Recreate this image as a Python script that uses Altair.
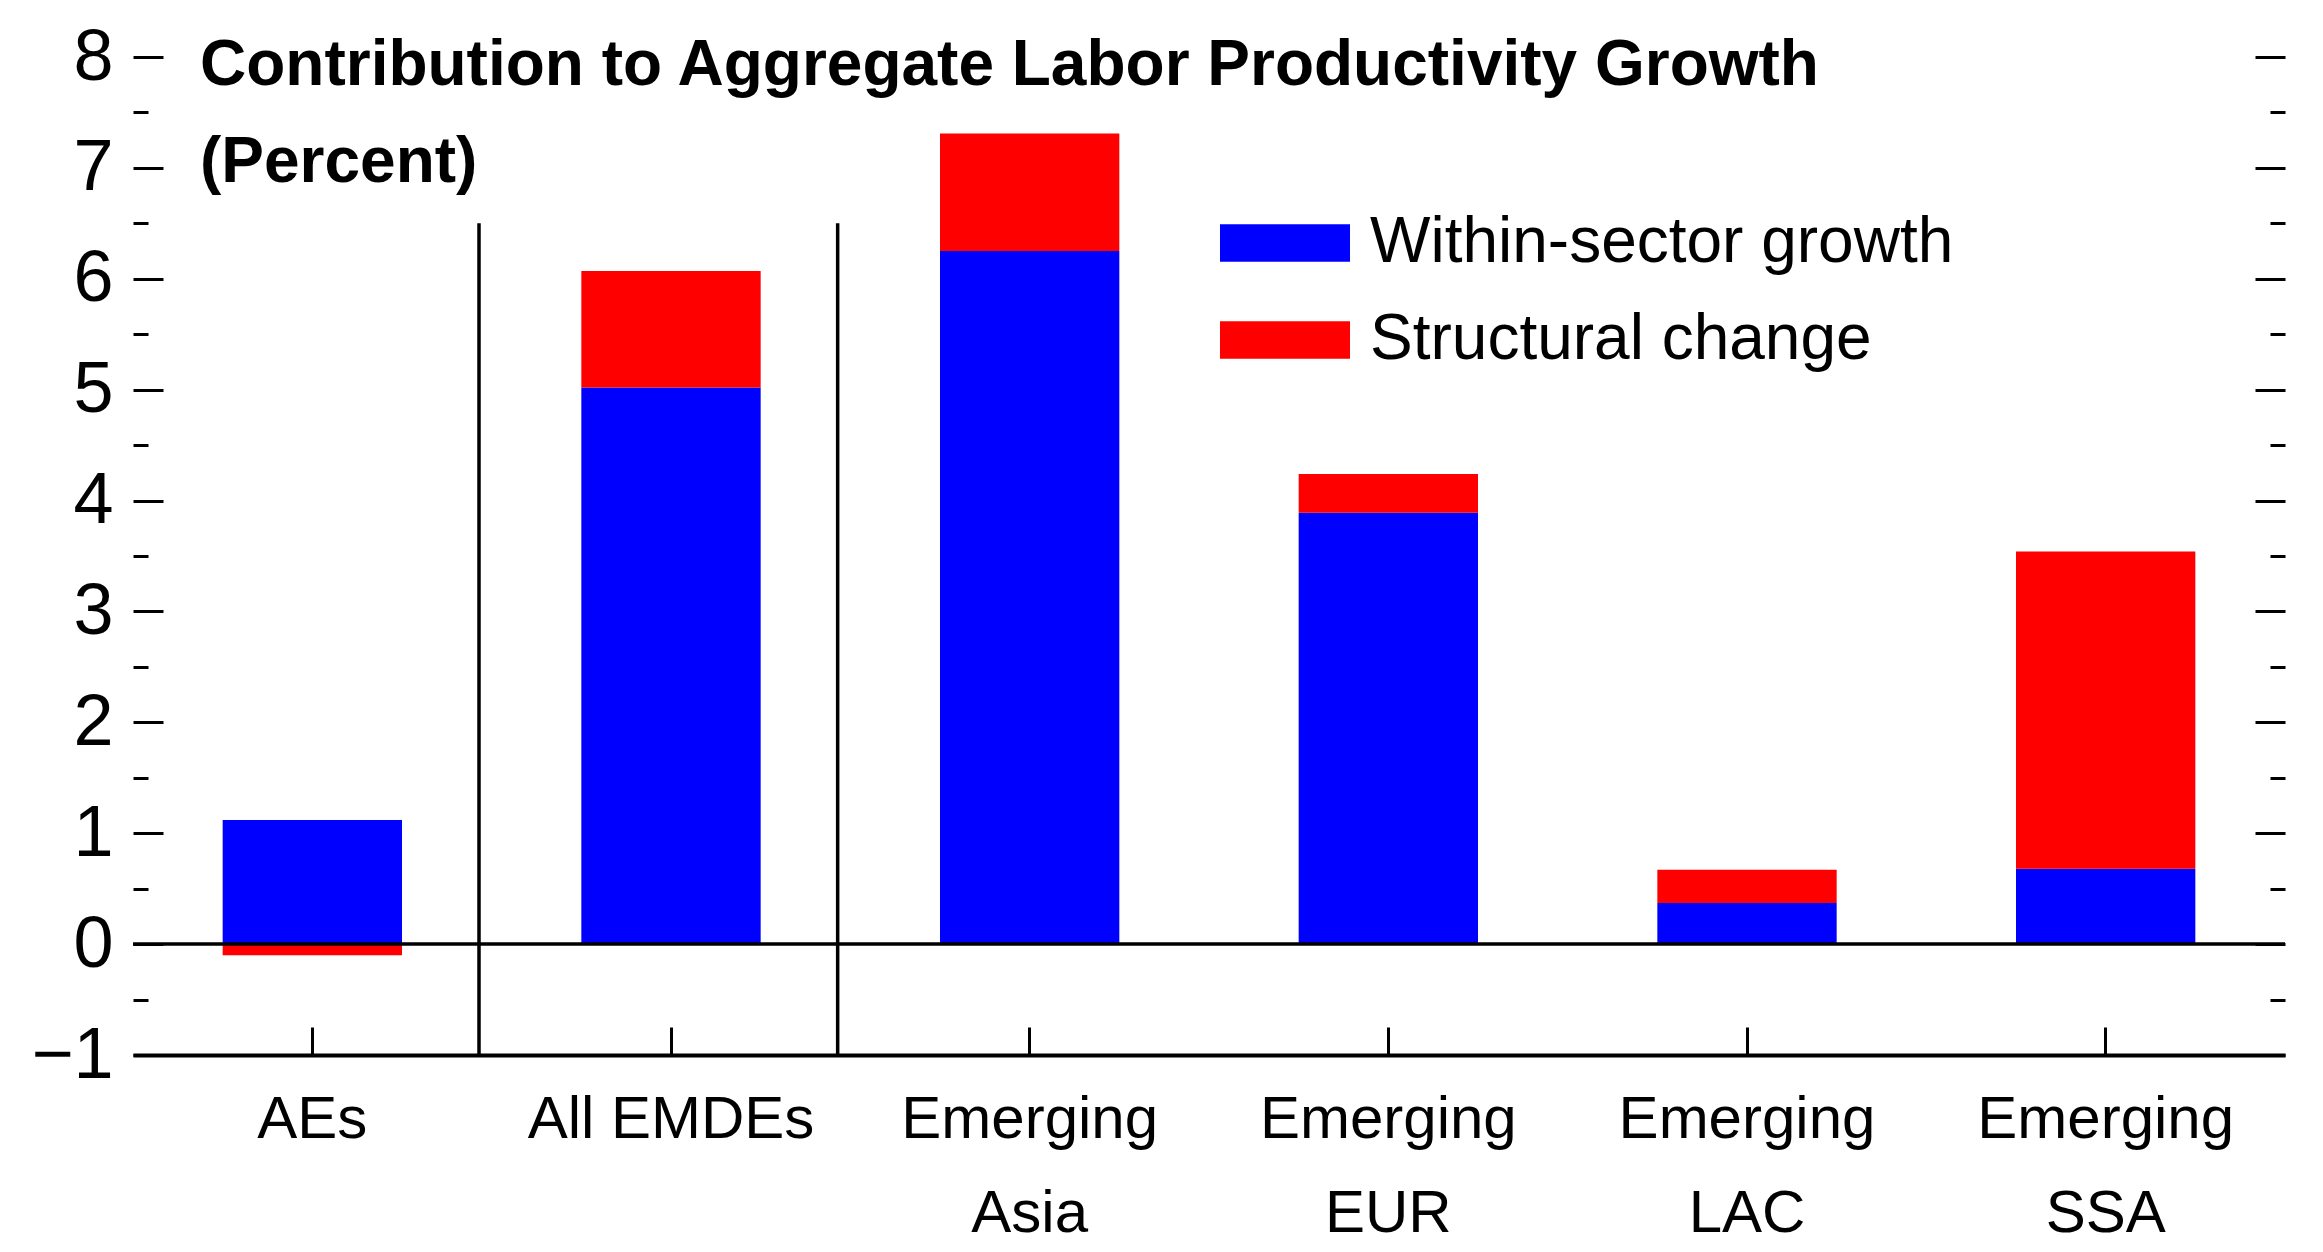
import altair as alt
import pandas as pd

# ---- data ----
categories = ["AEs", "All EMDEs", "Emerging Asia", "Emerging EUR", "Emerging LAC", "Emerging SSA"]
within_sector = [1.12, 5.02, 6.25, 3.89, 0.37, 0.68]
structural_change = [-0.10, 1.05, 1.06, 0.35, 0.30, 2.86]
series_names = ["Within-sector growth", "Structural change"]
series_colors = ["#0000ff", "#ff0000"]
y_major = [-1, 0, 1, 2, 3, 4, 5, 6, 7, 8]
y_minor = [-0.5, 0.5, 1.5, 2.5, 3.5, 4.5, 5.5, 6.5, 7.5]
separator_after = ["AEs", "All EMDEs"]
separator_bottom = [-1, -1]
separator_top = [6.5, 6.5]
title_lines = ["Contribution to Aggregate Labor Productivity Growth", "(Percent)"]

FONT = "Liberation Sans"
W = 2152
H = 998

rows = []
for c, w, s in zip(categories, within_sector, structural_change):
    rows.append({"category": c, "series": series_names[0], "value": w, "ord": 0})
    rows.append({"category": c, "series": series_names[1], "value": s, "ord": 1})
df = pd.DataFrame(rows)

xscale = alt.Scale(domain=categories, paddingInner=0.5, paddingOuter=0.25)
yscale = alt.Scale(domain=[-1, 8], nice=False, zero=False)

bars = alt.Chart(df).mark_bar().encode(
    x=alt.X("category:N", sort=categories, scale=xscale,
            axis=alt.Axis(orient="bottom", title=None, grid=False,
                          domain=True, domainColor="black", domainWidth=4,
                          ticks=False, tickSize=0, labelAngle=0,
                          labelFont=FONT, labelFontSize=60, labelColor="black",
                          labelPadding=35, labelLineHeight=94, labelLimit=1000,
                          labelExpr="substring(datum.label, 0, 8) == 'Emerging' ? ['Emerging', substring(datum.label, 9)] : datum.label")),
    y=alt.Y("value:Q", stack="zero", scale=yscale,
            axis=alt.Axis(orient="left", title=None, grid=False, domain=False,
                          ticks=False, tickSize=0, values=y_major,
                          labelFont=FONT, labelFontSize=72, labelColor="black",
                          labelPadding=20, minExtent=120,
                          labelExpr="datum.value < 0 ? '\u2212' + abs(datum.value) : datum.label")),
    color=alt.Color("series:N", scale=alt.Scale(domain=series_names, range=series_colors),
                    legend=alt.Legend(title=None, orient="none", legendX=1087, legendY=121,
                                      symbolType="M-1,-0.29H1V0.29H-1Z", symbolSize=16900,
                                      symbolStrokeWidth=0, symbolOpacity=1,
                                      labelFont=FONT, labelFontSize=64, labelColor="black",
                                      labelOffset=20, rowPadding=-7, padding=0,
                                      labelLimit=1000)),
    order=alt.Order("ord:Q"),
)

zero_df = pd.DataFrame({"y": [0]})
zero_line = alt.Chart(zero_df).mark_rule(color="black", strokeWidth=3.5).encode(
    y=alt.Y("y:Q", scale=yscale,
            axis=alt.Axis(orient="right", offset=-W, title=None, grid=False, domain=False,
                          labels=False, values=y_major, ticks=True, tickSize=30,
                          tickWidth=3, tickColor="black")),
)

sep_df = pd.DataFrame({"category": separator_after, "y": separator_bottom, "y2": separator_top})
separators = alt.Chart(sep_df).mark_rule(color="black", strokeWidth=3.5, xOffset=77).encode(
    x=alt.X("category:N", sort=categories, scale=xscale, bandPosition=1,
            axis=alt.Axis(orient="top", offset=-H, title=None, grid=False, domain=False,
                          labels=False, ticks=True, tickSize=28, tickWidth=3,
                          tickColor="black")),
    y=alt.Y("y:Q", scale=yscale,
            axis=alt.Axis(orient="right", offset=-W, title=None, grid=False, domain=False,
                          labels=False, values=y_minor, ticks=True, tickSize=15,
                          tickWidth=3, tickColor="black")),
    y2="y2:Q",
)

right_major = alt.Chart(zero_df).mark_rule(opacity=0).encode(
    y=alt.Y("y:Q", scale=yscale,
            axis=alt.Axis(orient="left", offset=-W, title=None, grid=False, domain=False,
                          labels=False, values=y_major, ticks=True, tickSize=30,
                          tickWidth=3, tickColor="black")),
)
right_minor = alt.Chart(zero_df).mark_rule(opacity=0).encode(
    y=alt.Y("y:Q", scale=yscale,
            axis=alt.Axis(orient="left", offset=-W, title=None, grid=False, domain=False,
                          labels=False, values=y_minor, ticks=True, tickSize=15,
                          tickWidth=3, tickColor="black")),
)

chart = (
    alt.layer(bars, separators, zero_line, right_major, right_minor)
    .resolve_scale(x="shared", y="shared")
    .resolve_axis(x="independent", y="independent")
    .properties(
        width=W, height=H,
        padding={"left": 5, "top": 13, "right": 5, "bottom": 5},
        view=alt.ViewBackground(stroke=None, strokeWidth=0),
        title=alt.TitleParams(text=title_lines, anchor="start", frame="group", orient="top",
                              offset=-174, dx=67, font=FONT, fontSize=64, fontWeight="bold",
                              lineHeight=97, color="black"),
    )
    .configure_view(stroke=None, strokeWidth=0, strokeOpacity=0)
    .configure_axis(grid=False, domain=False)
    .configure(background="white")
)

chart.save("out.html", embed_options={"renderer": "svg", "actions": False})
